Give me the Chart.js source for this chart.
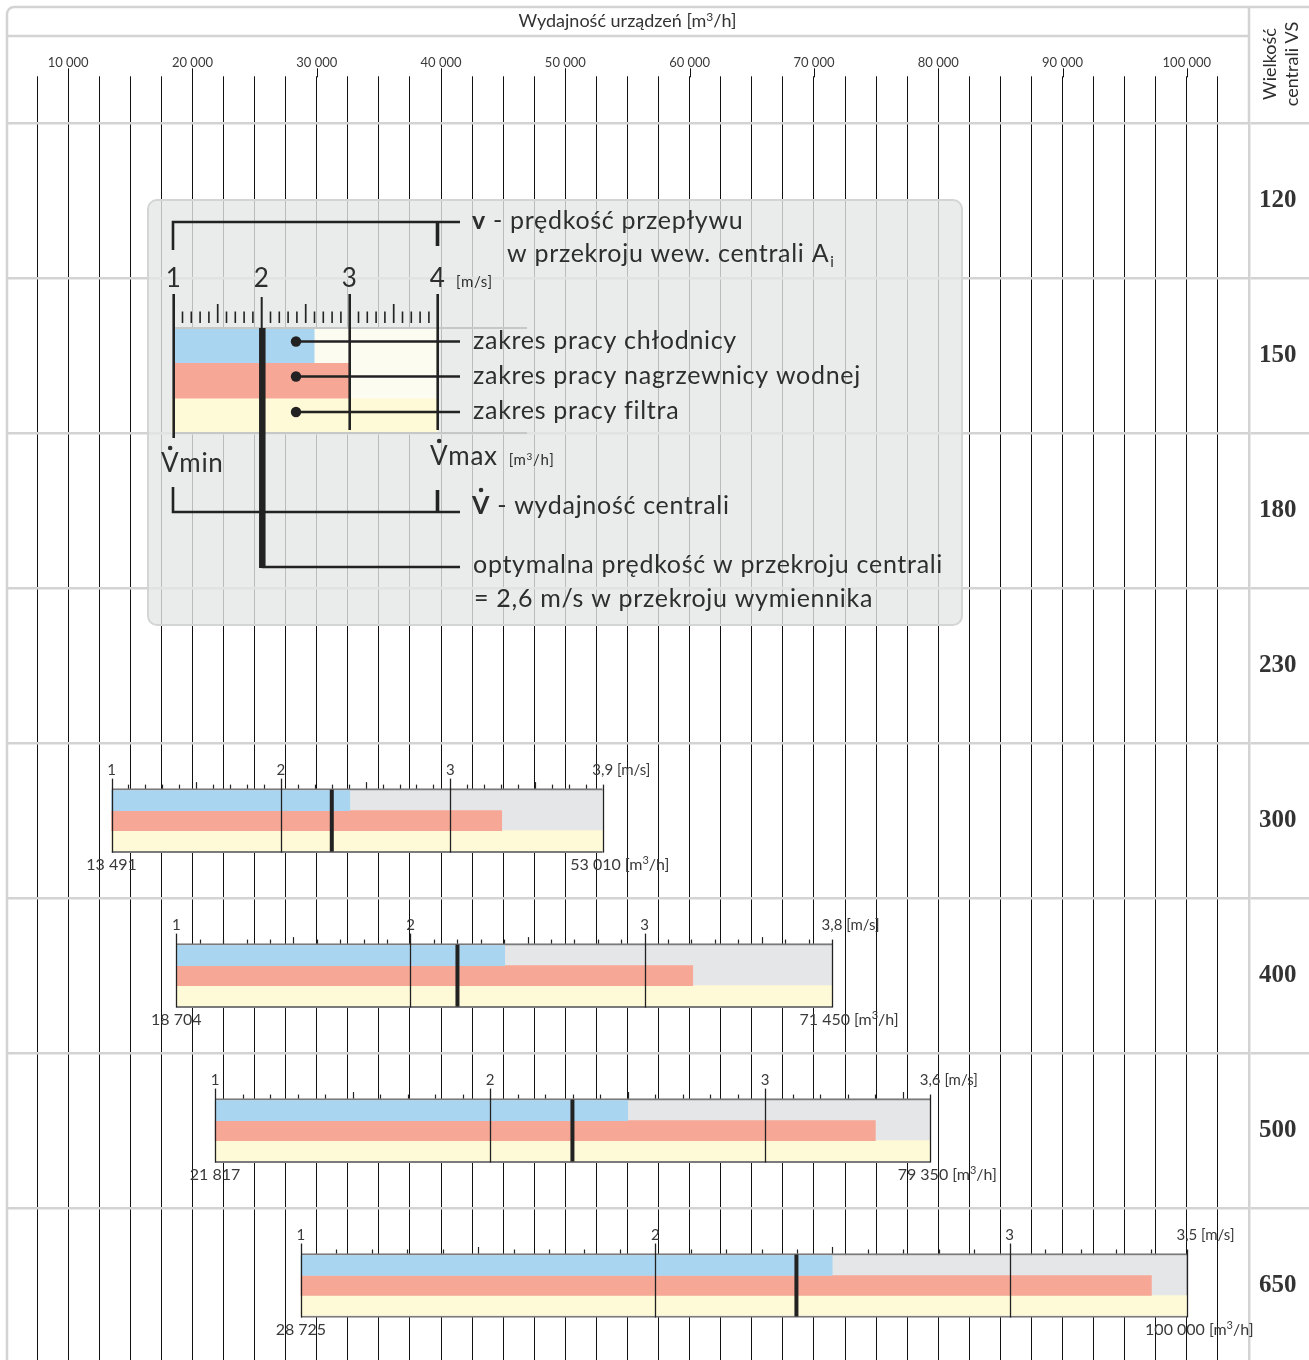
<!DOCTYPE html>
<html lang="pl">
<head>
<meta charset="UTF-8">
<title>Wydajność urządzeń – wielkość centrali VS</title>
<script src="https://cdn.jsdelivr.net/npm/chart.js"></script>
<style>
  html, body { margin: 0; padding: 0; background: #fff; overflow: hidden; }
  canvas { display: block; }
</style>
</head>
<body>
<canvas id="chart" width="1309" height="1363"></canvas>
<script>
// rows of the chart (unit sizes) and the labelled flow ticks
const sizes = ['120', '150', '180', '230', '300', '400', '500', '650'];
const flowAxisLabels = [10000, 20000, 30000, 40000, 50000, 60000, 70000, 80000, 90000, 100000];

// units that have a working range drawn
const rangeSizes = ['300', '400', '500', '650'];
const flowMin = [13491, 18704, 21817, 28725];      // m3/h at 1 m/s
const flowMax = [53010, 71450, 79350, 100000];     // m3/h at max speed
const speedMax = [3.9, 3.8, 3.6, 3.5];             // m/s at flowMax
const coolerMax = [32660, 45120, 55020, 71470];    // end of cooler range
const heaterMax = [44880, 60250, 74940, 97150];    // end of water heater range
const optimumFlow = [31210, 41320, 50570, 68590];  // optimal speed marker
const speedLabels = [1, 2, 3];

const COOLER = '#aad5f0';
const HEATER = '#f6a795';
const FILTER = '#fef9d6';
const EMPTY = '#e5e6e8';
const INK = '#222';
const TEXT = '#2e2e2e';

const fmtFlow = n => String(n).replace(/\B(?=(\d{3})+(?!\d))/g, ' ');
const fmtSpeed = v => String(v).replace('.', ',');
const span = hi => rangeSizes.map((s, i) => ({ y: s, x: [flowMin[i], hi[i]] }));

function line(ctx, x1, y1, x2, y2, w, color) {
  ctx.beginPath();
  ctx.moveTo(x1, y1);
  ctx.lineTo(x2, y2);
  ctx.lineWidth = w;
  ctx.strokeStyle = color || INK;
  ctx.stroke();
}

function text(ctx, s, x, y, font, align, color) {
  ctx.font = font;
  ctx.textAlign = align || 'left';
  ctx.textBaseline = 'alphabetic';
  ctx.fillStyle = color || TEXT;
  ctx.fillText(s, x, y);
  return ctx.measureText(s).width;
}

// text with a superscript 3 in "m3/h"
function unitText(ctx, before, x, y, size, align, color) {
  const f = size + 'px Lato', fs = Math.round(size * 0.66) + 'px Lato';
  const parts = [[before + 'm', f, 0], ['3', fs, -size * 0.36], ['/h]', f, 0]];
  let w = 0;
  parts.forEach(p => { ctx.font = p[1]; w += ctx.measureText(p[0]).width; });
  let cx = align === 'center' ? x - w / 2 : x;
  parts.forEach(p => { cx += text(ctx, p[0], cx, y + p[2], p[1], 'left', color); });
  return w;
}

// speed rulers, optimum marker and labels on each unit bar
const rulerPlugin = {
  id: 'rulers',
  afterDatasetsDraw(chart) {
    const { ctx, scales: { x, y } } = chart;
    ctx.save();
    rangeSizes.forEach((s, i) => {
      const yc = y.getPixelForValue(sizes.indexOf(s));
      const top = yc - 32, bottom = yc + 32;
      const flowAt = v => flowMin[i] + (v - 1) / (speedMax[i] - 1) * (flowMax[i] - flowMin[i]);
      const steps = Math.round((speedMax[i] - 1) * 10);
      for (let k = 0; k <= steps; k++) {
        const px = Math.round(x.getPixelForValue(flowAt(1 + k / 10))) + 0.5;
        if (k % 10 === 0) line(ctx, px, top - 10, px, bottom, 1.3);
        else if (k === steps) line(ctx, px, top - 4, px, bottom, 1.3);
        else if (k % 5 === 0) line(ctx, px, top - 6.5, px, top, 1.2);
        else line(ctx, px, top - 4, px, top, 1.2);
      }
      // optimum speed
      const ox = x.getPixelForValue(optimumFlow[i]);
      line(ctx, ox, top + 1, ox, bottom - 1, 4, INK);

      const f15 = '15px Lato', grey = '#3a3a3a';
      speedLabels.forEach(v => text(ctx, String(v), x.getPixelForValue(flowAt(v)), top - 14, f15, 'center', grey));
      const mx = x.getPixelForValue(flowMax[i]);
      const w1 = text(ctx, fmtSpeed(speedMax[i]), mx, top - 14, f15, 'center', grey);
      text(ctx, ' [m/s]', mx + w1 / 2, top - 14, f15, 'left', grey);

      text(ctx, fmtFlow(flowMin[i]), x.getPixelForValue(flowMin[i]), bottom + 17, '16px Lato', 'center', grey);
      text(ctx, fmtFlow(flowMax[i]), mx + 18, bottom + 17, '16px Lato', 'right', grey);
      unitText(ctx, ' [', mx + 18, bottom + 17, 16, 'left', grey);
    });
    ctx.restore();
  }
};

function roundRect(ctx, x, y, w, h, r) {
  ctx.beginPath();
  ctx.moveTo(x + r, y);
  ctx.arcTo(x + w, y, x + w, y + h, r);
  ctx.arcTo(x + w, y + h, x, y + h, r);
  ctx.arcTo(x, y + h, x, y, r);
  ctx.arcTo(x, y, x + w, y, r);
  ctx.closePath();
}

function dotV(ctx, s, x, y, font, boldFont) {
  // V with a dot above, followed by the rest of the word
  const wv = text(ctx, 'V', x, y, boldFont || font, 'left');
  ctx.beginPath();
  ctx.arc(x + wv / 2, y - 24, 2.3, 0, Math.PI * 2);
  ctx.fillStyle = TEXT;
  ctx.fill();
  return wv + text(ctx, s, x + wv, y, font, 'left');
}

// explanation panel in the upper left
const legendPlugin = {
  id: 'legendBox',
  afterDatasetsDraw(chart) {
    const ctx = chart.ctx;
    ctx.save();
    roundRect(ctx, 148, 200, 814, 425, 9);
    ctx.fillStyle = 'rgba(229,230,230,0.8)';
    ctx.fill();
    ctx.lineWidth = 2;
    ctx.strokeStyle = '#d3d5d5';
    ctx.stroke();

    const sx = v => 173.7 + (v - 1) * 88;
    const barW = sx(4) - sx(1);
    ctx.fillStyle = '#fdfcf1';
    ctx.fillRect(sx(1), 328, barW, 105);
    ctx.fillStyle = FILTER;
    ctx.fillRect(sx(1) - 2, 398.5, barW + 2, 34.5);
    ctx.fillStyle = COOLER;
    ctx.fillRect(sx(1), 328, sx(2.6) - sx(1), 35);
    ctx.fillStyle = HEATER;
    ctx.fillRect(sx(1), 363, sx(3) - sx(1), 35.5);
    line(ctx, sx(1), 328, 527, 328, 2, '#c6c8c8');
    line(ctx, sx(1), 433, 527, 433, 2, '#c6c8c8');

    for (let k = 0; k <= 30; k++) {
      const px = sx(1 + k / 10);
      if (k === 0) line(ctx, px, 294, px, 438, 2.6);
      else if (k === 10) line(ctx, px, 297, px, 328, 2);
      else if (k % 10 === 0) line(ctx, px, 294, px, 430, 2.6);
      else if (k % 5 === 0) line(ctx, px, 304, px, 323, 1.7);
      else line(ctx, px, 311.5, px, 323, 1.6);
    }
    // optimum speed marker
    line(ctx, sx(2) + 0.6, 328, sx(2) + 0.6, 568, 6.5);
    line(ctx, sx(2), 567, 460, 567, 2.6);
    // brackets
    ctx.beginPath();
    ctx.moveTo(173, 250); ctx.lineTo(173, 222); ctx.lineTo(460, 222);
    ctx.lineWidth = 2.6; ctx.strokeStyle = INK; ctx.stroke();
    line(ctx, 437.5, 222, 437.5, 246, 3.6);
    ctx.beginPath();
    ctx.moveTo(173, 487); ctx.lineTo(173, 512); ctx.lineTo(460, 512);
    ctx.lineWidth = 2.6; ctx.stroke();
    line(ctx, 437.5, 490, 437.5, 512, 3.6);
    // leaders
    [341.5, 376.5, 412].forEach(yy => {
      ctx.beginPath();
      ctx.arc(296, yy, 5.2, 0, Math.PI * 2);
      ctx.fillStyle = INK;
      ctx.fill();
      line(ctx, 296, yy, 460, yy, 2.6);
    });

    const big = '26px Lato';
    ctx.letterSpacing = '0.7px';
    [1, 2, 3, 4].forEach(v => text(ctx, String(v), sx(v), 287, big, 'center'));
    text(ctx, '[m/s]', 456, 287, '15px Lato');
    dotV(ctx, 'min', 161, 472, big);
    const wm = dotV(ctx, 'max', 430, 465, big);
    unitText(ctx, '[', 430 + wm + 11, 465, 15, 'left');

    const f = '25px Lato', fb = 'bold 25px Lato';
    const wv = text(ctx, 'v', 472, 229, fb);
    text(ctx, ' - prędkość przepływu', 472 + wv, 229, f);
    const wa = text(ctx, 'w przekroju wew. centrali A', 507, 262, f);
    text(ctx, 'i', 507 + wa + 1, 267, '15px Lato');
    text(ctx, 'zakres pracy chłodnicy', 473, 349, f);
    text(ctx, 'zakres pracy nagrzewnicy wodnej', 473, 384, f);
    text(ctx, 'zakres pracy filtra', 473, 419, f);
    const wd = dotV(ctx, '', 472, 514, f, fb);
    text(ctx, ' - wydajność centrali', 472 + wd, 514, f);
    text(ctx, 'optymalna prędkość w przekroju centrali', 473, 573, f);
    text(ctx, '= 2,6 m/s w przekroju wymiennika', 474, 607, f);
    ctx.restore();
  }
};

// frame, header title and lines, rotated column title
const framePlugin = {
  id: 'frame',
  afterDatasetsDraw(chart) {
    const { ctx, chartArea, scales: { x } } = chart;
    ctx.save();
    // longer ticks at labelled values
    flowAxisLabels.forEach(v => {
      const px = Math.round(x.getPixelForValue(v)) + 0.5;
      line(ctx, px, chartArea.top - 55, px, chartArea.top - 46, 1, '#111');
    });
    const grey = '#d3d3d3';
    ctx.beginPath();
    ctx.moveTo(7, chart.height);
    ctx.lineTo(7, 14);
    ctx.arcTo(7, 7, 14, 7, 7);
    ctx.lineTo(chart.width, 7);
    ctx.lineWidth = 2.5;
    ctx.strokeStyle = grey;
    ctx.stroke();
    line(ctx, 7, x.top, chartArea.right, x.top, 2.5, grey);
    line(ctx, chartArea.right, 7, chartArea.right, chartArea.top, 2.5, grey);

    // axis title
    unitText(ctx, 'Wydajność urządzeń [', (chartArea.left + chartArea.right) / 2, 27, 18, 'center', '#333');

    const cx = (chartArea.right + chart.width) / 2;
    ctx.translate(cx, 64);
    ctx.rotate(-Math.PI / 2);
    text(ctx, 'Wielkość', 0, -3, '18px Lato', 'center');
    text(ctx, 'centrali VS', 0, 19, '18px Lato', 'center');
    ctx.restore();
  }
};

Chart.defaults.font.family = 'Lato';

new Chart(document.getElementById('chart'), {
  type: 'bar',
  data: {
    datasets: [
      { label: 'zakres pracy chłodnicy', data: span(coolerMax), backgroundColor: COOLER, barThickness: 20 },
      { label: 'zakres pracy nagrzewnicy wodnej', data: span(heaterMax), backgroundColor: HEATER, barThickness: 20 },
      { label: 'zakres pracy filtra', data: span(flowMax), backgroundColor: FILTER, barThickness: 20 },
      {
        label: 'wydajność centrali', data: span(flowMax), backgroundColor: EMPTY,
        borderColor: '#7b7b7b', borderWidth: { top: 2, bottom: 2, left: 0, right: 0 }, borderSkipped: false,
        grouped: false, categoryPercentage: 1, barPercentage: 1, maxBarThickness: 64, order: 1
      }
    ]
  },
  options: {
    indexAxis: 'y',
    responsive: false,
    animation: false,
    layout: { padding: { top: 36, left: 6, right: 0, bottom: 0 } },
    plugins: {
      legend: { display: false },
      tooltip: { enabled: false }
    },
    scales: {
      x: {
        type: 'linear', position: 'top', min: 5000, max: 105000,
        ticks: {
          stepSize: 2500, autoSkip: false, maxRotation: 0, padding: 6, color: '#3a3a3a',
          font: { family: 'Lato', size: 13 },
          callback: v => flowAxisLabels.includes(v) ? fmtFlow(v) : ''
        },
        grid: {
          color: c => (c.tick && (c.tick.value === 5000 || c.tick.value === 105000)) ? 'rgba(0,0,0,0)' : '#111',
          tickColor: c => (c.tick && (c.tick.value === 5000 || c.tick.value === 105000)) ? 'rgba(0,0,0,0)' : '#111',
          lineWidth: 1, tickLength: 47
        },
        border: { display: false },
        afterFit: s => { s.height = 87.3; }
      },
      y: {
        type: 'category', labels: sizes, position: 'right', offset: true,
        grid: { offset: true, color: '#d3d3d3', tickColor: '#d3d3d3', lineWidth: 2.5, tickLength: 60 },
        border: { display: true, color: '#d3d3d3', width: 2.5 },
        ticks: {
          padding: -50, crossAlign: 'near', color: '#333',
          font: { family: 'Liberation Serif', size: 25, weight: 'bold' }
        },
        afterFit: s => { s.width = 60; }
      }
    }
  },
  plugins: [rulerPlugin, legendPlugin, framePlugin]
});
</script>
</body>
</html>
